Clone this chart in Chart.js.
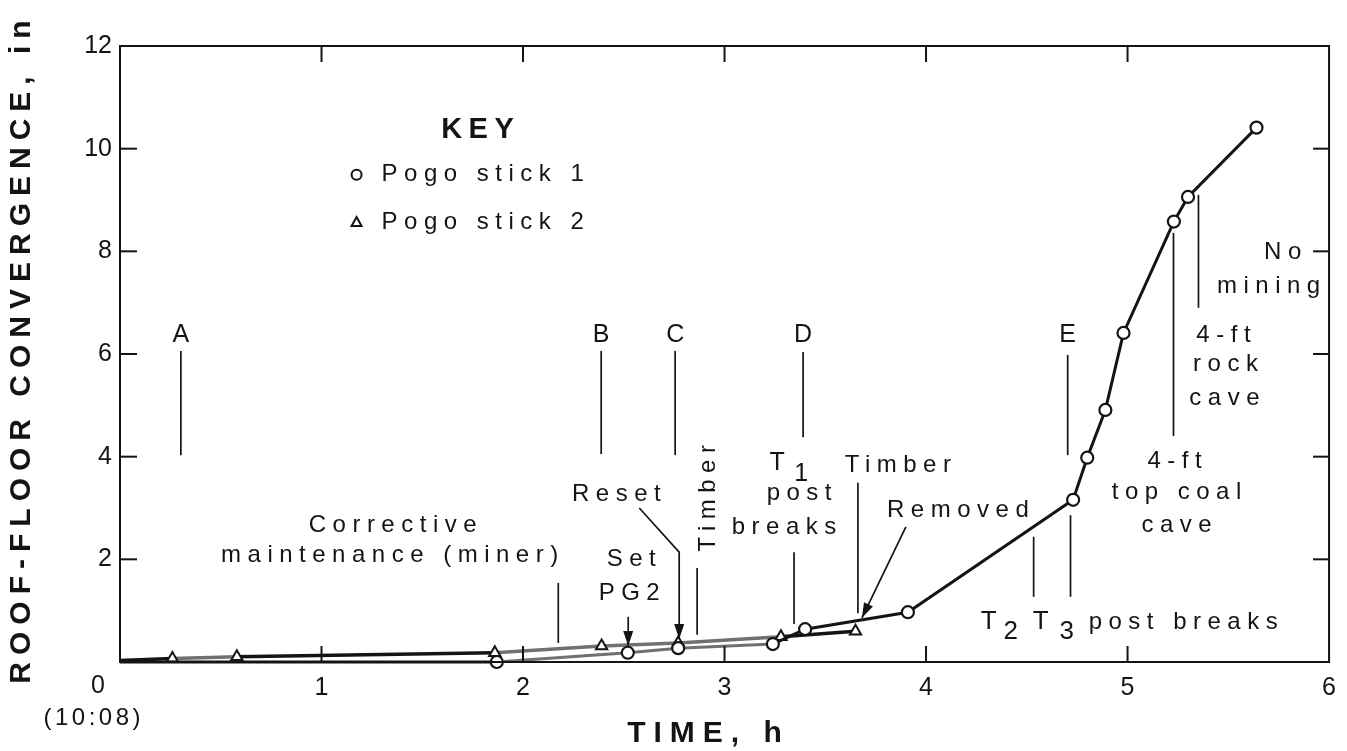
<!DOCTYPE html>
<html>
<head>
<meta charset="utf-8">
<script src="https://cdn.jsdelivr.net/npm/chart.js@4.4.1/dist/chart.umd.min.js"></script>
<style>
  html, body { margin: 0; padding: 0; background: #fff; }
  #wrap { width: 1347px; height: 751px; position: relative; }
</style>
</head>
<body>
<div id="wrap"><canvas id="conv"></canvas></div>
<script>
// data (time in h, convergence in in)
const stick1Time = [0, 1.87, 2.52, 2.77, 3.24, 3.40, 3.91, 4.73, 4.80, 4.89, 4.98, 5.23, 5.30, 5.64];
const stick1Conv = [0, 0.0, 0.18, 0.27, 0.35, 0.64, 0.97, 3.16, 3.98, 4.91, 6.41, 8.58, 9.06, 10.41];
const stick2Time = [0, 0.26, 0.58, 1.86, 2.39, 2.77, 3.28, 3.65];
const stick2Conv = [0.03, 0.07, 0.10, 0.18, 0.31, 0.37, 0.49, 0.60];
const timeTicks = [0, 1, 2, 3, 4, 5, 6];
const convTicks = [0, 2, 4, 6, 8, 10, 12];
const seriesNames = ['Pogo stick 1', 'Pogo stick 2'];

const INK = '#141414';
const GREY = '#707070';
const FONT = '"Liberation Sans", Arial, sans-serif';

// event markers: [label, time]
const events = [['A', 0.302], ['B', 2.388], ['C', 2.755], ['D', 3.39], ['E', 4.703]];

// leader lines [time, from, to] in data units
const leaders = [
  [0.302, 6.06, 4.03], [2.388, 6.06, 4.05], [2.755, 6.06, 4.03], [3.39, 6.04, 4.38], [4.703, 5.98, 4.03],
  [2.175, 1.54, 0.37], [2.864, 1.83, 0.53], [3.345, 2.14, 0.74], [3.662, 3.49, 0.95],
  [4.534, 2.44, 1.27], [4.717, 2.86, 1.27], [5.228, 8.36, 4.40], [5.352, 9.10, 6.90]
];

// arrows, last point gets the head
const arrows = [
  [[2.577, 3.00], [2.775, 2.14], [2.775, 0.45]],
  [[2.522, 0.88], [2.522, 0.31]],
  [[3.900, 2.63], [3.682, 0.86]]
];

// plain notes [text, time, value]
const notes = [
  ['Corrective', 1.353, 2.67], ['maintenance (miner)', 1.338, 2.07],
  ['Set', 2.537, 1.99], ['PG2', 2.527, 1.34], ['Reset', 2.463, 3.27],
  ['post', 3.37, 3.29], ['breaks', 3.295, 2.63],
  ['Timber', 3.86, 3.84], ['Removed', 4.158, 2.96],
  ['4-ft', 5.233, 3.90], ['top coal', 5.243, 3.31], ['cave', 5.243, 2.67],
  ['4-ft', 5.476, 6.37], ['rock', 5.486, 5.79], ['cave', 5.481, 5.14],
  ['No', 5.77, 7.97], ['mining', 5.70, 7.31]
];

function pts(xs, ys) { return xs.map((t, i) => ({ x: t, y: ys[i] })); }

function say(ctx, s, x, y, o = {}) {
  const ls = o.ls == null ? 6.5 : o.ls;
  ctx.save();
  ctx.font = (o.weight || '') + ' ' + (o.size || 24) + 'px ' + FONT;
  ctx.letterSpacing = ls + 'px';
  ctx.fillStyle = INK;
  ctx.textBaseline = 'middle';
  ctx.textAlign = o.align || 'center';
  ctx.translate(x, y);
  if (o.rot) ctx.rotate(o.rot);
  // letterSpacing adds a trailing gap, shift back half of it when centred
  const shift = (o.align || 'center') === 'center' ? ls / 2 : 0;
  ctx.fillText(s, shift, 0);
  ctx.restore();
}

const overlay = {
  id: 'overlay',
  afterDraw(chart) {
    const { ctx, chartArea: a, scales: { x, y } } = chart;
    const X = t => x.getPixelForValue(t);
    const Y = v => y.getPixelForValue(v);
    const seg = (x1, y1, x2, y2) => { ctx.beginPath(); ctx.moveTo(x1, y1); ctx.lineTo(x2, y2); ctx.stroke(); };

    ctx.save();
    ctx.strokeStyle = INK;
    ctx.lineWidth = 2;
    ctx.strokeRect(a.left, a.top, a.right - a.left, a.bottom - a.top);

    // inward ticks on all sides
    timeTicks.slice(1, -1).forEach(t => {
      seg(X(t), a.bottom, X(t), a.bottom - 16);
      seg(X(t), a.top, X(t), a.top + 16);
    });
    convTicks.slice(1, -1).forEach(v => {
      seg(a.left, Y(v), a.left + 17, Y(v));
      seg(a.right, Y(v), a.right - 16, Y(v));
    });

    // leader lines
    ctx.lineWidth = 1.7;
    leaders.forEach(([t, v1, v2]) => seg(X(t), Y(v1), X(t), Y(v2)));

    // arrows
    arrows.forEach(path => {
      ctx.beginPath();
      path.forEach(([t, v], i) => i ? ctx.lineTo(X(t), Y(v)) : ctx.moveTo(X(t), Y(v)));
      ctx.stroke();
      const [t0, v0] = path[path.length - 2];
      const [t1, v1] = path[path.length - 1];
      const ang = Math.atan2(Y(v1) - Y(v0), X(t1) - X(t0));
      ctx.save();
      ctx.translate(X(t1), Y(v1));
      ctx.rotate(ang);
      ctx.fillStyle = INK;
      ctx.beginPath();
      ctx.moveTo(0, 0); ctx.lineTo(-15, -5); ctx.lineTo(-15, 5); ctx.closePath();
      ctx.fill();
      ctx.restore();
    });
    ctx.restore();

    events.forEach(([s, t]) => say(ctx, s, X(t), Y(6.37), { ls: 0, size: 25 }));
    notes.forEach(([s, t, v]) => say(ctx, s, X(t), Y(v)));

    say(ctx, 'Timber', X(2.919), Y(3.19), { rot: -Math.PI / 2 });
    say(ctx, 'T', X(3.261), Y(3.88), { ls: 0, size: 25 });
    say(ctx, '1', X(3.38), Y(3.66), { ls: 0, size: 25 });
    say(ctx, 'T', X(4.311), Y(0.78), { ls: 0, size: 26 });
    say(ctx, '2', X(4.42), Y(0.58), { ls: 0, size: 26 });
    say(ctx, 'T', X(4.569), Y(0.78), { ls: 0, size: 26 });
    say(ctx, '3', X(4.698), Y(0.58), { ls: 0, size: 26 });
    say(ctx, 'post breaks', X(4.807), Y(0.78), { align: 'left' });

    // key
    say(ctx, 'KEY', X(1.774), Y(10.36), { weight: 'bold', size: 29 });
    ctx.save();
    ctx.strokeStyle = INK; ctx.lineWidth = 2; ctx.fillStyle = '#fff';
    ctx.beginPath(); ctx.arc(X(1.174), Y(9.49), 5, 0, Math.PI * 2); ctx.fill(); ctx.stroke();
    const tx = X(1.174), ty = Y(8.57);
    ctx.beginPath(); ctx.moveTo(tx, ty - 5); ctx.lineTo(tx + 5, ty + 4); ctx.lineTo(tx - 5, ty + 4); ctx.closePath();
    ctx.fill(); ctx.stroke();
    ctx.restore();
    say(ctx, seriesNames[0], X(1.298), Y(9.49), { align: 'left' });
    say(ctx, seriesNames[1], X(1.298), Y(8.57), { align: 'left' });

    // axis titles and the origin label
    say(ctx, 'ROOF-FLOOR CONVERGENCE, in', 22, (a.top + a.bottom) / 2 - 2, { weight: 'bold', size: 30, ls: 7, rot: -Math.PI / 2 });
    say(ctx, 'TIME, h', (a.left + a.right) / 2 - 20, 734, { weight: 'bold', size: 30, ls: 8 });
    say(ctx, '0', X(0) - 22, 686, { ls: 0, size: 25 });
    say(ctx, '(10:08)', X(0) - 28, 718, { ls: 3.5 });
  }
};

new Chart(document.getElementById('conv'), {
  type: 'line',
  data: {
    datasets: [
      {
        label: seriesNames[0],
        data: pts(stick1Time, stick1Conv),
        borderColor: INK,
        borderWidth: 3,
        pointStyle: 'circle',
        pointRadius: c => c.dataIndex === 0 ? 0 : 6,
        pointBorderWidth: 2.2,
        pointBorderColor: INK,
        pointBackgroundColor: '#fff',
        segment: { borderColor: c => (c.p0.parsed.x >= 1.8 && c.p1.parsed.x <= 3.3) ? GREY : INK },
        clip: false,
        order: 1
      },
      {
        label: seriesNames[1],
        data: pts(stick2Time, stick2Conv),
        borderColor: GREY,
        borderWidth: 3.5,
        pointStyle: 'triangle',
        pointRadius: c => c.dataIndex === 0 ? 0 : 6.5,
        pointBorderWidth: 2,
        pointBorderColor: INK,
        pointBackgroundColor: '#fff',
        segment: {
          borderColor: c => {
            const t = c.p0.parsed.x;
            return (t < 0.2 || (t > 0.5 && t < 1) || t > 3.2) ? INK : GREY;
          }
        },
        clip: false,
        order: 2
      }
    ]
  },
  options: {
    responsive: true,
    maintainAspectRatio: false,
    animation: false,
    layout: { padding: { top: 46, right: 16, bottom: 0, left: 0 } },
    plugins: { legend: { display: false }, tooltip: { enabled: false } },
    elements: { line: { tension: 0 } },
    scales: {
      x: {
        type: 'linear', min: 0, max: 6,
        afterFit: s => { s.height = 89; },
        afterBuildTicks: s => { s.ticks = timeTicks.map(v => ({ value: v })); },
        grid: { display: false, drawTicks: false },
        border: { display: false },
        ticks: {
          padding: 11, color: INK,
          font: { family: FONT, size: 25 },
          callback: v => v === 0 ? '' : v
        }
      },
      y: {
        type: 'linear', min: 0, max: 12,
        afterFit: s => { s.width = 120; },
        afterBuildTicks: s => { s.ticks = convTicks.map(v => ({ value: v })); },
        grid: { display: false, drawTicks: false },
        border: { display: false },
        ticks: {
          padding: 8, color: INK,
          font: { family: FONT, size: 25 },
          callback: v => v === 0 ? '' : v
        }
      }
    }
  },
  plugins: [overlay]
});
</script>
</body>
</html>
